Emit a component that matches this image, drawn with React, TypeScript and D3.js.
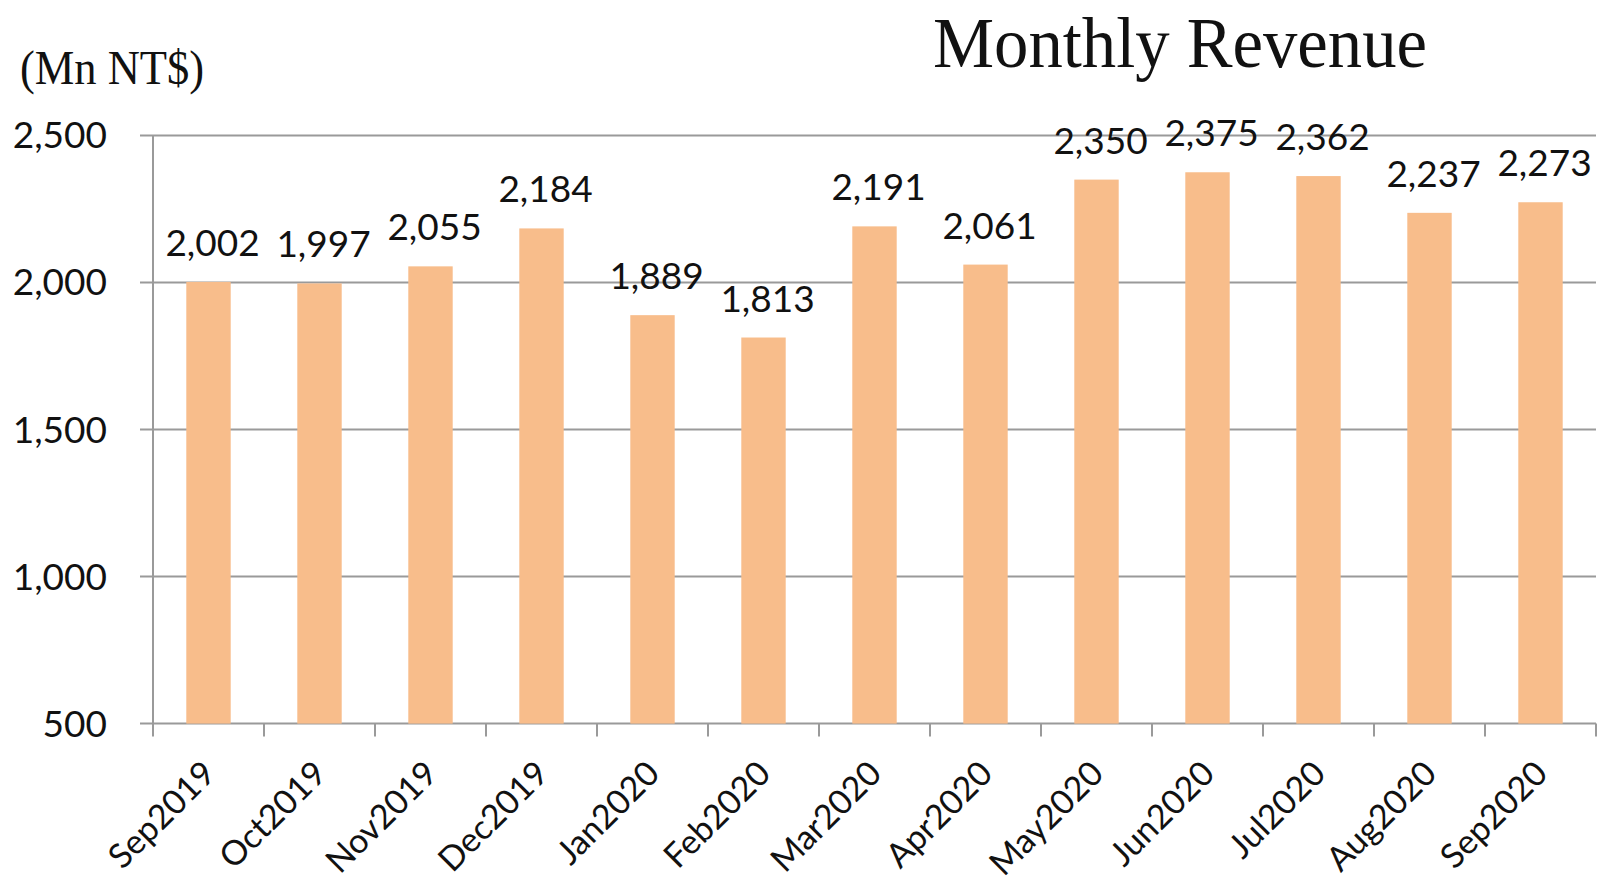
import { useEffect } from "react";
import * as d3 from "d3";

const months: string[] = [
  "Sep2019", "Oct2019", "Nov2019", "Dec2019", "Jan2020", "Feb2020", "Mar2020",
  "Apr2020", "May2020", "Jun2020", "Jul2020", "Aug2020", "Sep2020",
];
const revenue: number[] = [2002, 1997, 2055, 2184, 1889, 1813, 2191, 2061, 2350, 2375, 2362, 2237, 2273];
const yTicks: number[] = [500, 1000, 1500, 2000, 2500];

const width = 1598;
const height = 885;
const left = 153;
const right = 1596;
const top = 135.5;
const bottom = 723.6;

const labelFont = "Lato, 'Open Sans', sans-serif";
const titleFont = "'Liberation Serif', 'DejaVu Serif', serif";

export default function App() {
  useEffect(() => {
    document.body.style.margin = "0"; // full-bleed like the picture
  }, []);

  const x = d3.scaleBand<string>().domain(months).range([left, right]).paddingInner(0.6).paddingOuter(0.3);
  const y = d3.scaleLinear().domain([500, 2500]).range([bottom, top]);
  const step = x.step();
  const fmt = d3.format(",");

  // tick marks sit on the category boundaries
  const tickXs = months.map((m) => (x(m) as number) - step * 0.3).concat([right]);

  return (
    <svg width={width} height={height} style={{ display: "block", background: "#fff" }}>
      <text x={933} y={67} fontFamily={titleFont} fontSize={72} textLength={494} lengthAdjust="spacingAndGlyphs" fill="#111">
        Monthly Revenue
      </text>
      <text x={20} y={84} fontFamily={titleFont} fontSize={48} textLength={184} lengthAdjust="spacingAndGlyphs" fill="#111">
        (Mn NT$)
      </text>

      {yTicks.map((t) => (
        <g key={t}>
          <line x1={left - 13} x2={right} y1={y(t)} y2={y(t)} stroke="#9a9a9a" strokeWidth={2} />
          <text x={107} y={y(t)} dy="0.35em" textAnchor="end" fontFamily={labelFont} fontSize={37} fill="#111">
            {fmt(t)}
          </text>
        </g>
      ))}
      <line x1={left} x2={left} y1={top} y2={bottom} stroke="#9a9a9a" strokeWidth={2} />

      {months.map((m, i) => (
        <rect
          key={m}
          x={x(m)}
          y={y(revenue[i])}
          width={x.bandwidth()}
          height={bottom - y(revenue[i])}
          fill="#F8BD8B"
        />
      ))}

      {tickXs.map((tx, i) => (
        <line key={i} x1={tx} x2={tx} y1={bottom} y2={bottom + 13} stroke="#9a9a9a" strokeWidth={2} />
      ))}

      {months.map((m, i) => (
        <text
          key={m}
          x={(x(m) as number) + x.bandwidth() / 2 + 4}
          y={y(revenue[i]) - 26}
          textAnchor="middle"
          fontFamily={labelFont}
          fontSize={37}
          fill="#111"
        >
          {fmt(revenue[i])}
        </text>
      ))}

      {months.map((m) => {
        const cx = (x(m) as number) + x.bandwidth() / 2;
        return (
          <text
            key={m}
            transform={`translate(${cx + 9},${bottom + 52}) rotate(-45)`}
            textAnchor="end"
            fontFamily={labelFont}
            fontSize={34}
            fill="#111"
          >
            {m}
          </text>
        );
      })}
    </svg>
  );
}
